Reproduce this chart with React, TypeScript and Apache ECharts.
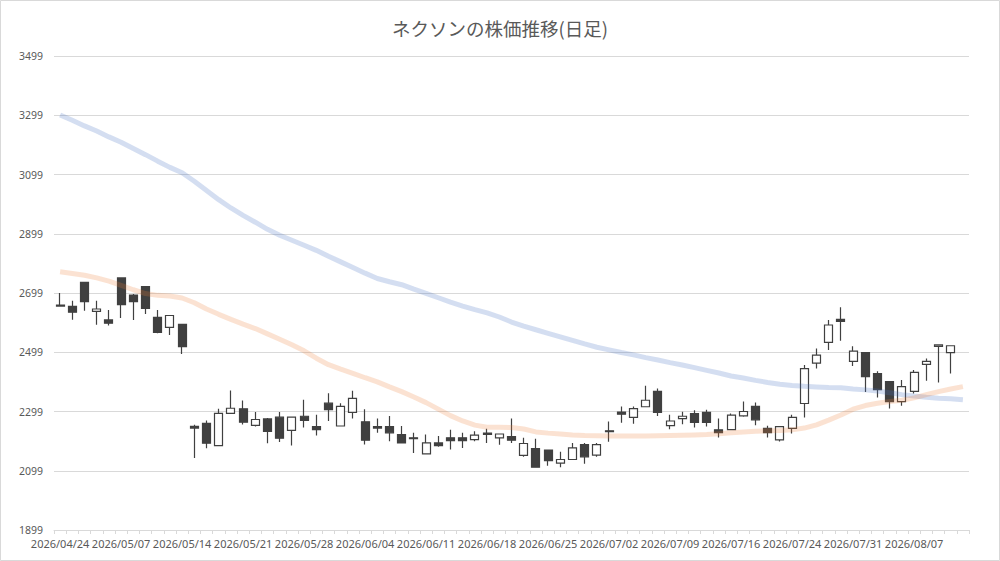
import React, { useEffect, useRef } from "react";
import * as echarts from "echarts";

const TITLE = "ネクソンの株価推移(日足)";

const dates: string[] = [
  "2026/04/24", "2026/04/27", "2026/04/28", "2026/04/30", "2026/05/01",
  "2026/05/07", "2026/05/08", "2026/05/11", "2026/05/12", "2026/05/13",
  "2026/05/14", "2026/05/15", "2026/05/18", "2026/05/19", "2026/05/20",
  "2026/05/21", "2026/05/22", "2026/05/25", "2026/05/26", "2026/05/27",
  "2026/05/28", "2026/05/29", "2026/06/01", "2026/06/02", "2026/06/03",
  "2026/06/04", "2026/06/05", "2026/06/08", "2026/06/09", "2026/06/10",
  "2026/06/11", "2026/06/12", "2026/06/15", "2026/06/16", "2026/06/17",
  "2026/06/18", "2026/06/19", "2026/06/22", "2026/06/23", "2026/06/24",
  "2026/06/25", "2026/06/26", "2026/06/29", "2026/06/30", "2026/07/01",
  "2026/07/02", "2026/07/03", "2026/07/06", "2026/07/07", "2026/07/08",
  "2026/07/09", "2026/07/10", "2026/07/13", "2026/07/14", "2026/07/15",
  "2026/07/16", "2026/07/17", "2026/07/21", "2026/07/22", "2026/07/23",
  "2026/07/24", "2026/07/27", "2026/07/28", "2026/07/29", "2026/07/30",
  "2026/07/31", "2026/08/03", "2026/08/04", "2026/08/05", "2026/08/06",
  "2026/08/07", "2026/08/10", "2026/08/12", "2026/08/13", "2026/08/14",
];

// [open, close, low, high]
const ohlc: (number[] | null)[] = [
  [2658, 2655, 2653, 2699], [2654, 2634, 2609, 2673], [2735, 2670, 2639, 2737],
  [2637, 2645, 2592, 2673], [2608, 2597, 2589, 2642], [2750, 2660, 2615, 2752],
  [2692, 2670, 2608, 2696], [2721, 2647, 2628, 2722], [2617, 2566, 2563, 2642],
  [2583, 2623, 2557, 2624], [2593, 2518, 2493, 2594], [2249, 2243, 2142, 2254],
  [2259, 2192, 2175, 2269], [2184, 2293, 2182, 2308], [2293, 2310, 2291, 2370],
  [2308, 2263, 2255, 2336], [2252, 2272, 2248, 2297], [2274, 2232, 2192, 2277],
  [2280, 2209, 2196, 2297], [2235, 2280, 2184, 2281], [2283, 2269, 2245, 2339],
  [2248, 2238, 2218, 2288], [2327, 2305, 2267, 2361], [2250, 2316, 2250, 2327],
  [2296, 2343, 2275, 2369], [2264, 2202, 2188, 2307], [2248, 2243, 2227, 2275],
  [2248, 2227, 2199, 2284], [2221, 2193, 2191, 2250], [2210, 2207, 2159, 2227],
  [2156, 2193, 2156, 2221], [2193, 2184, 2180, 2216], [2210, 2201, 2171, 2237],
  [2210, 2201, 2176, 2227], [2204, 2219, 2199, 2232], [2226, 2222, 2193, 2241],
  [2210, 2223, 2187, 2224], [2214, 2202, 2193, 2275], [2151, 2191, 2146, 2210],
  [2174, 2111, 2111, 2207], [2169, 2133, 2116, 2170], [2125, 2137, 2111, 2163],
  [2137, 2176, 2136, 2193], [2187, 2146, 2123, 2193], [2152, 2187, 2146, 2193],
  [2234, 2231, 2197, 2265], [2297, 2290, 2261, 2316], [2279, 2309, 2258, 2316],
  [2315, 2337, 2314, 2386], [2367, 2296, 2284, 2377], [2251, 2267, 2239, 2288],
  [2275, 2283, 2256, 2298], [2292, 2262, 2245, 2303], [2296, 2262, 2248, 2305],
  [2237, 2228, 2211, 2275], [2238, 2287, 2237, 2292], [2284, 2299, 2281, 2333],
  [2316, 2271, 2253, 2329], [2242, 2228, 2211, 2251], [2203, 2248, 2198, 2249],
  [2242, 2279, 2225, 2288], [2326, 2444, 2279, 2456], [2462, 2489, 2444, 2512],
  [2532, 2591, 2507, 2608], [2610, 2603, 2538, 2651], [2468, 2503, 2453, 2519],
  [2498, 2417, 2365, 2499], [2427, 2373, 2346, 2435], [2400, 2332, 2309, 2401],
  [2332, 2383, 2318, 2405], [2367, 2431, 2360, 2439], [2458, 2468, 2403, 2478],
  [2519, 2524, 2397, 2525], [2498, 2521, 2427, 2522], null,
];

const maLong: number[] = [
  3300, 3282, 3263, 3246, 3226, 3208, 3187, 3166, 3144, 3123,
  3105, 3076, 3045, 3014, 2986, 2961, 2938, 2914, 2894, 2877,
  2860, 2843, 2823, 2804, 2785, 2766, 2748, 2737, 2727, 2712,
  2698, 2683, 2668, 2655, 2643, 2632, 2618, 2601, 2587, 2575,
  2563, 2551, 2539, 2527, 2516, 2507, 2498, 2490, 2481, 2473,
  2464, 2456, 2447, 2438, 2429, 2419, 2412, 2404, 2397, 2391,
  2387, 2384, 2382, 2380, 2379, 2375, 2372, 2368, 2362, 2356,
  2351, 2347, 2344, 2342, 2339,
];

const maShort: number[] = [
  2771, 2765, 2759, 2750, 2739, 2725, 2710, 2697, 2691, 2689,
  2682, 2666, 2645, 2627, 2610, 2594, 2579, 2561, 2543, 2524,
  2504, 2479, 2457, 2442, 2428, 2413, 2399, 2382, 2366, 2348,
  2329, 2307, 2285, 2267, 2253, 2246, 2246, 2245, 2240, 2230,
  2226, 2223, 2220, 2218, 2217, 2216, 2216, 2216, 2216, 2217,
  2218, 2219, 2220, 2221, 2224, 2227, 2230, 2232, 2234, 2235,
  2237, 2243, 2254, 2270, 2287, 2307, 2319, 2327, 2333, 2337,
  2345, 2356, 2366, 2375, 2383,
];

const Y_MIN = 1899;
const Y_MAX = 3499;
const Y_STEP = 200;

export default function App() {
  const ref = useRef<HTMLDivElement>(null);

  useEffect(() => {
    document.body.style.margin = "0";
    if (!ref.current) return;
    const chart = echarts.init(ref.current, null, { renderer: "svg" });
    const textColor = "#595959";
    const gridColor = "#d9d9d9";
    chart.setOption({
      animation: false,
      backgroundColor: "#ffffff",
      title: {
        text: TITLE,
        left: "center",
        top: 14,
        textStyle: {
          color: textColor,
          fontSize: 18.5,
          fontWeight: "normal",
          fontFamily: "'Noto Sans CJK JP', 'Noto Sans', sans-serif",
        },
      },
      graphic: [
        {
          type: "rect",
          shape: { x: 0.5, y: 0.5, width: 999, height: 560 },
          style: { fill: "none", stroke: gridColor, lineWidth: 1 },
          silent: true,
          z: 100,
        },
      ],
      grid: { left: 54, right: 31, top: 56, bottom: 31 },
      xAxis: {
        type: "category",
        data: dates,
        boundaryGap: true,
        axisLine: { show: true, lineStyle: { color: gridColor, width: 1 } },
        axisTick: {
          show: true,
          interval: 0,
          alignWithLabel: false,
          length: 4,
          lineStyle: { color: gridColor },
        },
        axisLabel: {
          interval: 4,
          color: textColor,
          fontSize: 11,
          margin: 8,
          fontFamily: "'Noto Sans', sans-serif",
        },
        splitLine: { show: false },
      },
      yAxis: {
        type: "value",
        min: Y_MIN,
        max: Y_MAX,
        interval: Y_STEP,
        axisLine: { show: false },
        axisTick: { show: false },
        axisLabel: {
          color: textColor,
          fontSize: 10.5,
          margin: 11,
          fontFamily: "'Noto Sans', sans-serif",
          formatter: (v: number) => String(Math.round(v)),
        },
        splitLine: { show: true, lineStyle: { color: gridColor, width: 1 } },
      },
      series: [
        {
          name: "株価",
          type: "candlestick",
          data: ohlc.map((d) => (d ? d : "-")),
          barWidth: 8.5,
          itemStyle: {
            color: "#ffffff",
            color0: "#404040",
            borderColor: "#404040",
            borderColor0: "#404040",
            borderWidth: 1.2,
          },
          z: 2,
        },
        {
          name: "長期移動平均",
          type: "line",
          data: maLong,
          symbol: "none",
          smooth: false,
          lineStyle: { color: "#4472C4", width: 5, opacity: 0.23 },
          z: 3,
        },
        {
          name: "短期移動平均",
          type: "line",
          data: maShort,
          symbol: "none",
          smooth: false,
          lineStyle: { color: "#ED7D31", width: 5, opacity: 0.22 },
          z: 3,
        },
      ],
    });
    return () => chart.dispose();
  }, []);

  return (
    <div
      ref={ref}
      style={{ position: "absolute", left: 0, top: 0, width: 1000, height: 561 }}
    />
  );
}
